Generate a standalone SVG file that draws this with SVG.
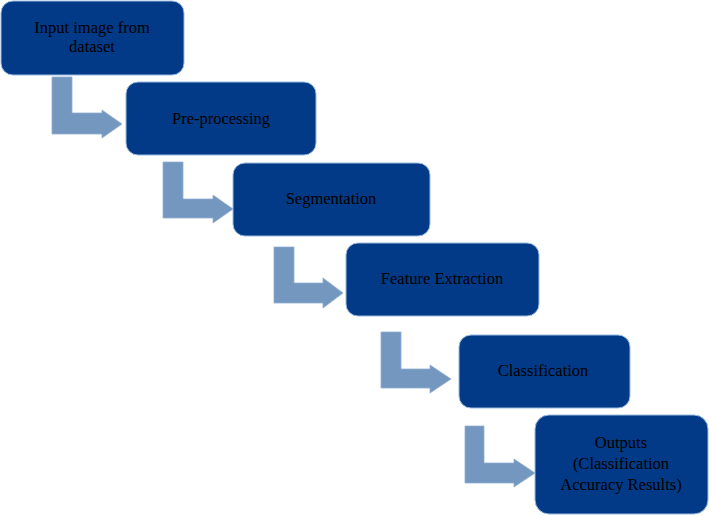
<svg xmlns="http://www.w3.org/2000/svg" width="709" height="516" viewBox="0 0 709 516">
<style>
.node{fill:#023a87;stroke:#9bbbe0;stroke-width:1}
.arr{fill:#7497c0;stroke:#8fadd0;stroke-width:0.8}
text{font-family:"Liberation Serif","Times New Roman",serif;font-size:16.5px;fill:#000;text-anchor:middle}
</style>
<rect width="709" height="516" fill="#fff"/>
<g id="connectors">
<path class="arr" d="M52,77 H72 V113 H102 V110 L122,124 L102,138 V134 H52 Z"/>
<path class="arr" d="M163,162 H183 V199 H213 V195 L233,209 L213,223 V218 H163 Z"/>
<path class="arr" d="M274,247 H294 V283 H323 V278 L343,293 L323,308 V303 H274 Z"/>
<path class="arr" d="M381,332 H401 V369 H430 V365 L451,379 L430,393 V388 H381 Z"/>
<path class="arr" d="M465,426 H484 V463 H514 V459 L535,473 L514,487 V483 H465 Z"/>
</g>
<g id="n1"><rect class="node" x="1" y="1" width="183" height="74" rx="12"/><text x="92" y="33">Input image from</text><text x="92" y="52">dataset</text></g>
<g id="n2"><rect class="node" x="126" y="82" width="190" height="73" rx="12"/><text x="221" y="124">Pre-processing</text></g>
<g id="n3"><rect class="node" x="233" y="163" width="197" height="73" rx="12"/><text x="331" y="204">Segmentation</text></g>
<g id="n4"><rect class="node" x="346" y="243" width="193" height="73" rx="12"/><text x="442" y="284">Feature Extraction</text></g>
<g id="n5"><rect class="node" x="459" y="335" width="171" height="73" rx="12"/><text x="543" y="376">Classification</text></g>
<g id="n6"><rect class="node" x="535" y="415" width="173" height="99" rx="14"/><text x="621" y="448">Outputs</text><text x="621" y="469">(Classification</text><text x="621" y="490">Accuracy Results)</text></g>
</svg>
